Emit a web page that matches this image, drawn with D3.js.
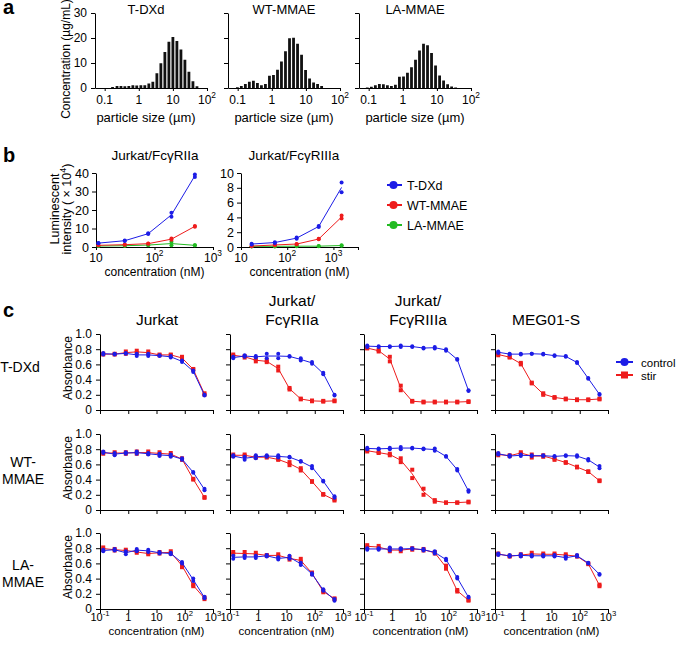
<!DOCTYPE html>
<html><head><meta charset="utf-8">
<script src="https://cdn.jsdelivr.net/npm/d3@7/dist/d3.min.js"></script>
<style>body{margin:0;background:#fff}svg{display:block}</style>
</head><body><svg id="chart" width="676" height="646"></svg>
<script>
// ================= DATA =================
// Panel a: particle size distributions
const aTitles = ["T-DXd", "WT-MMAE", "LA-MMAE"];
const aTicksY = [0, 10, 20, 30];
const aTicksX = [0.1, 1, 10, 100];
const aTickLabelsX = [["0.1"], ["1"], ["10"], ["10", "2"]];
const aSizeTDXd = [0.17,0.23,0.30,0.39,0.51,0.67,0.87,1.15,1.50,1.97,2.58,3.39,4.44,5.82,7.63,10.0,13.1,17.2,22.5,29.5,38.7,50.8];
const aConcTDXd = [0.4,0.8,0.8,0.7,0.8,1.1,1.0,1.1,1.1,1.8,2.5,5.9,9.9,14.4,18.5,20.4,18.8,15.4,11.3,6.5,2.7,0.7];
const aSizeWT = [0.098,0.128,0.168,0.220,0.289,0.379,0.497,0.651,0.854,1.12,1.47,1.92,2.52,3.31,4.34,5.69,7.46,9.78,12.8,16.8,22.0,28.9];
const aConcWT = [0.3,0.8,1.6,2.5,2.9,2.0,1.1,1.6,4.9,5.2,7.3,10.6,14.7,19.9,20.1,17.7,13.3,7.2,3.8,2.2,1.6,0.8];
const aSizeLA = [0.091,0.120,0.157,0.206,0.270,0.354,0.464,0.608,0.797,1.05,1.37,1.80,2.36,3.09,4.05,5.31,6.96,9.13,12.0,15.7,20.6,27.0,35.4];
const aConcLA = [0.2,0.5,1.1,1.6,1.5,1.1,0.8,1.3,4.5,4.6,6.1,8.3,11.3,15.0,17.7,17.1,14.0,9.0,5.0,3.0,1.5,0.6,0.2];

// Panel b: luminescence (x 10^4), two replicates per point
const bDrugs = ["T-DXd", "WT-MMAE", "LA-MMAE"];
const bTitles = ["Jurkat/FcγRIIa", "Jurkat/FcγRIIIa"];
const bConcIIa = [11, 31, 78, 195, 490];
const bIIaTDXd = [[2.2,2.0],[3.5,3.3],[7.4,7.0],[18.5,16.3],[39.2,37.8]];
const bIIaWT   = [[0.9,0.9],[1.3,1.2],[1.9,1.7],[4.6,3.9],[11.3,11.0]];
const bIIaLA   = [[0.5,0.5],[0.7,0.7],[1.1,1.0],[2.8,0.9],[0.9,0.9]];
const bConcIIIa = [17, 54, 160, 480, 1500];
const bIIIaTDXd = [[0.45,0.35],[0.65,0.55],[1.3,1.1],[2.85,2.7],[8.7,7.4]];
const bIIIaWT   = [[0.15,0.1],[0.3,0.25],[0.42,0.38],[1.1,1.05],[4.25,3.85]];
const bIIIaLA   = [[0.1,0.08],[0.1,0.08],[0.12,0.1],[0.12,0.1],[0.22,0.18]];
const bTicksYIIa = [0, 10, 20, 30, 40];
const bTicksYIIIa = [0, 2, 4, 6, 8, 10];

// Panel c: absorbance, two replicates per point; columns: Jurkat, FcγRIIa, FcγRIIIa, MEG01-S
const cColTitles = [["Jurkat"], ["Jurkat/", "FcγRIIa"], ["Jurkat/", "FcγRIIIa"], ["MEG01-S"]];
const cRowLabels = [["T-DXd"], ["WT-", "MMAE"], ["LA-", "MMAE"]];
const cSeries = ["control", "stir"];
const cConc = [0.13, 0.33, 0.82, 2.0, 5.1, 12.8, 32, 80, 200, 500];
const cTicksX = [0.1, 1, 10, 100, 1000];
const cTickLabelsX = [["10", "-1"], ["1"], ["10"], ["10", "2"], ["10", "3"]];
const cTicksY = [0, 0.2, 0.4, 0.6, 0.8, 1.0];
const cCtrlTDXd = [
  [[0.75,0.73],[0.74,0.73],[0.75,0.74],[0.74,0.71],[0.74,0.71],[0.72,0.71],[0.71,0.69],[0.65,0.63],[0.52,0.50],[0.20,0.19]],
  [[0.70,0.68],[0.72,0.70],[0.71,0.69],[0.74,0.68],[0.74,0.68],[0.71,0.70],[0.68,0.65],[0.63,0.61],[0.49,0.47],[0.20,0.19]],
  [[0.85,0.83],[0.84,0.83],[0.84,0.83],[0.85,0.83],[0.84,0.83],[0.82,0.81],[0.83,0.81],[0.80,0.78],[0.67,0.66],[0.26,0.25]],
  [[0.77,0.75],[0.74,0.73],[0.74,0.73],[0.74,0.74],[0.74,0.73],[0.72,0.71],[0.71,0.70],[0.63,0.62],[0.42,0.41],[0.21,0.20]]];
const cStirTDXd = [
  [[0.74,0.73],[0.74,0.73],[0.77,0.74],[0.78,0.75],[0.77,0.74],[0.73,0.72],[0.73,0.72],[0.70,0.67],[0.54,0.53],[0.22,0.20]],
  [[0.73,0.71],[0.71,0.69],[0.67,0.64],[0.65,0.63],[0.57,0.52],[0.29,0.27],[0.15,0.14],[0.125,0.115],[0.12,0.11],[0.125,0.115]],
  [[0.82,0.81],[0.79,0.77],[0.70,0.64],[0.32,0.26],[0.12,0.11],[0.11,0.10],[0.11,0.10],[0.11,0.10],[0.11,0.10],[0.115,0.105]],
  [[0.74,0.72],[0.70,0.69],[0.62,0.60],[0.36,0.35],[0.22,0.20],[0.17,0.16],[0.15,0.14],[0.14,0.13],[0.14,0.13],[0.15,0.14]]];
const cCtrlWT = [
  [[0.77,0.75],[0.75,0.72],[0.76,0.74],[0.77,0.74],[0.75,0.73],[0.74,0.71],[0.73,0.70],[0.68,0.66],[0.50,0.49],[0.28,0.26]],
  [[0.72,0.70],[0.70,0.66],[0.72,0.68],[0.72,0.70],[0.72,0.69],[0.70,0.69],[0.645,0.635],[0.58,0.55],[0.385,0.375],[0.18,0.16]],
  [[0.82,0.80],[0.81,0.80],[0.82,0.80],[0.83,0.80],[0.82,0.81],[0.81,0.80],[0.81,0.78],[0.71,0.70],[0.54,0.52],[0.26,0.24]],
  [[0.75,0.73],[0.72,0.70],[0.73,0.71],[0.72,0.71],[0.72,0.71],[0.71,0.70],[0.72,0.71],[0.72,0.70],[0.67,0.65],[0.58,0.55]]];
const cStirWT = [
  [[0.76,0.74],[0.76,0.74],[0.76,0.74],[0.77,0.74],[0.77,0.74],[0.76,0.73],[0.75,0.72],[0.68,0.66],[0.41,0.40],[0.17,0.16]],
  [[0.73,0.71],[0.73,0.71],[0.70,0.69],[0.70,0.69],[0.67,0.66],[0.63,0.59],[0.55,0.52],[0.38,0.37],[0.21,0.20],[0.14,0.125]],
  [[0.79,0.77],[0.76,0.75],[0.74,0.72],[0.68,0.63],[0.53,0.42],[0.28,0.20],[0.13,0.11],[0.10,0.095],[0.10,0.095],[0.11,0.10]],
  [[0.74,0.72],[0.72,0.71],[0.76,0.74],[0.73,0.69],[0.72,0.70],[0.68,0.66],[0.63,0.62],[0.57,0.56],[0.51,0.50],[0.39,0.38]]];
const cCtrlLA = [
  [[0.78,0.76],[0.79,0.77],[0.76,0.72],[0.79,0.76],[0.78,0.75],[0.75,0.73],[0.74,0.72],[0.62,0.60],[0.40,0.37],[0.16,0.14]],
  [[0.70,0.66],[0.70,0.67],[0.70,0.67],[0.71,0.69],[0.68,0.65],[0.70,0.66],[0.61,0.58],[0.47,0.45],[0.26,0.24],[0.13,0.11]],
  [[0.80,0.78],[0.80,0.78],[0.81,0.77],[0.80,0.78],[0.80,0.79],[0.79,0.77],[0.76,0.73],[0.66,0.64],[0.42,0.40],[0.16,0.15]],
  [[0.73,0.71],[0.71,0.69],[0.72,0.69],[0.71,0.69],[0.71,0.69],[0.71,0.69],[0.69,0.66],[0.71,0.69],[0.61,0.60],[0.46,0.45]]];
const cStirLA = [
  [[0.81,0.78],[0.79,0.77],[0.78,0.76],[0.76,0.74],[0.74,0.72],[0.75,0.73],[0.76,0.73],[0.59,0.55],[0.32,0.30],[0.15,0.13]],
  [[0.75,0.72],[0.75,0.71],[0.74,0.71],[0.71,0.70],[0.72,0.69],[0.68,0.65],[0.66,0.62],[0.48,0.46],[0.24,0.22],[0.14,0.13]],
  [[0.84,0.81],[0.83,0.80],[0.79,0.76],[0.79,0.76],[0.80,0.78],[0.79,0.77],[0.75,0.73],[0.57,0.53],[0.25,0.23],[0.12,0.11]],
  [[0.73,0.72],[0.70,0.69],[0.72,0.70],[0.74,0.71],[0.73,0.71],[0.73,0.71],[0.72,0.70],[0.70,0.69],[0.60,0.59],[0.32,0.30]]];

// ================= DRAWING =================
const FONT = "'Liberation Sans', Arial, Helvetica, sans-serif";
const BLUE = "#1c1ce6", RED = "#ee1c1c", GREEN = "#22bb22";
const svg = d3.select("#chart").attr("font-family", FONT);

function styleAxis(g, fs) {
  g.attr("font-family", null).attr("font-size", fs);
  g.selectAll("path,line").attr("stroke", "#000").attr("stroke-width", 1);
  g.selectAll("text").attr("fill", "#000");
}
function supLabel(parent, x, y, parts, fs, anchor) {
  const t = parent.append("text").attr("x", x).attr("y", y)
    .attr("text-anchor", anchor || "middle").attr("font-size", fs).attr("fill", "#000");
  t.append("tspan").text(parts[0]);
  if (parts[1]) t.append("tspan").attr("dy", -fs * 0.42).attr("font-size", fs * 0.7).text(parts[1]);
  return t;
}
function multiLine(parent, x, y, lines, fs, lh, anchor) {
  lines.forEach((l, i) => parent.append("text").attr("x", x).attr("y", y + i * lh)
    .attr("text-anchor", anchor || "middle").attr("font-size", fs).text(l));
}
function panelLetter(t, x, y) {
  svg.append("text").attr("x", x).attr("y", y).attr("font-size", 20)
    .attr("font-weight", "bold").text(t);
}

// ---------- Panel a ----------
panelLetter("a", 3, 14);
const aLeft = [95, 228, 359], aW = 112, aTop = 13, aBot = 88;
const aTitleX = [146, 284, 415];
const aData = [[aSizeTDXd, aConcTDXd], [aSizeWT, aConcWT], [aSizeLA, aConcLA]];
aData.forEach(([sizes, vals], i) => {
  const x = d3.scaleLog().domain([0.052, 100]).range([aLeft[i], aLeft[i] + aW]);
  const y = d3.scaleLinear().domain([0, 30]).range([aBot, aTop]);
  const g = svg.append("g");
  g.selectAll("rect").data(sizes).join("rect")
    .attr("x", d => x(d) - 1.4).attr("width", 2.8)
    .attr("y", (d, j) => y(vals[j])).attr("height", (d, j) => y(0) - y(vals[j]))
    .attr("fill", "#111");
  const gy = svg.append("g").attr("transform", `translate(${aLeft[i]},0)`)
    .call(d3.axisLeft(y).tickValues(aTicksY).tickSize(4).tickSizeOuter(0)
      .tickPadding(4).tickFormat(i === 0 ? d3.format("d") : ""));
  styleAxis(gy, 12);
  const gx = svg.append("g").attr("transform", `translate(0,${aBot})`)
    .call(d3.axisBottom(x).tickValues(aTicksX).tickSize(3).tickSizeOuter(0).tickFormat(""));
  styleAxis(gx, 12);
  aTicksX.forEach((v, k) => supLabel(svg, x(v), 103.5, aTickLabelsX[k], 12));
  svg.append("text").attr("x", aTitleX[i]).attr("y", 14).attr("text-anchor", "middle")
    .attr("font-size", 13).text(aTitles[i]);
  svg.append("text").attr("x", aTitleX[i]).attr("y", 122).attr("text-anchor", "middle")
    .attr("font-size", 13).text("particle size (µm)");
});
svg.append("text").attr("transform", "translate(70,59) rotate(-90)")
  .attr("text-anchor", "middle").attr("font-size", 12).text("Concentration (µg/mL)");

// ---------- Panel b ----------
panelLetter("b", 3, 162);
const bPanels = [
  { left: 96, right: 213, dom: [10, 1000], ymax: 40, yt: bTicksYIIa, conc: bConcIIa,
    series: [bIIaTDXd, bIIaWT, bIIaLA], tx: 155, xt: [10, 100, 1000] },
  { left: 241, right: 358, dom: [10, 3400], ymax: 10, yt: bTicksYIIIa, conc: bConcIIIa,
    series: [bIIIaTDXd, bIIIaWT, bIIIaLA], tx: 294, xt: [10, 100, 1000] }];
const bTickLab = { 10: ["10"], 100: ["10", "2"], 1000: ["10", "3"] };
const bColors = [BLUE, RED, GREEN];
const bTop = 173, bBot = 247;
bPanels.forEach((p, i) => {
  const x = d3.scaleLog().domain(p.dom).range([p.left, p.right]);
  const y = d3.scaleLinear().domain([0, p.ymax]).range([bBot, bTop]);
  const gy = svg.append("g").attr("transform", `translate(${p.left},0)`)
    .call(d3.axisLeft(y).tickValues(p.yt).tickSize(4).tickSizeOuter(0).tickPadding(3).tickFormat(d3.format("d")));
  styleAxis(gy, 12.5);
  const gx = svg.append("g").attr("transform", `translate(0,${bBot})`)
    .call(d3.axisBottom(x).tickValues(p.xt.concat([p.dom[1]])).tickSize(3).tickSizeOuter(0).tickFormat(""));
  styleAxis(gx, 12);
  p.xt.forEach(v => supLabel(svg, x(v), 261.5, bTickLab[v], 12));
  svg.append("text").attr("x", p.tx).attr("y", 160).attr("text-anchor", "middle")
    .attr("font-size", 13.5).text(bTitles[i]);
  svg.append("text").attr("x", (p.left + p.right) / 2).attr("y", 276).attr("text-anchor", "middle")
    .attr("font-size", 12).text("concentration (nM)");
  [2, 1, 0].forEach(s => {
    const data = p.series[s];
    const line = d3.line().x((d, j) => x(p.conc[j])).y(d => y(d3.mean(d)));
    svg.append("path").datum(data).attr("d", line).attr("fill", "none")
      .attr("stroke", bColors[s]).attr("stroke-width", 1);
    const pts = [];
    data.forEach((d, j) => d.forEach(v => pts.push([p.conc[j], v])));
    svg.append("g").selectAll("circle").data(pts).join("circle")
      .attr("cx", d => x(d[0])).attr("cy", d => y(d[1])).attr("r", 2)
      .attr("fill", bColors[s]);
  });
});
const bYL = svg.append("g").attr("transform", "translate(0,209)");
bYL.append("text").attr("transform", "translate(59,0) rotate(-90)").attr("text-anchor", "middle")
  .attr("font-size", 12.5).text("Luminescent");
const bYL2 = bYL.append("text").attr("transform", "translate(71,0) rotate(-90)").attr("text-anchor", "middle")
  .attr("font-size", 12.5);
bYL2.append("tspan").text("intensity ( × 10");
bYL2.append("tspan").attr("dy", -5).attr("font-size", 9).text("4");
bYL2.append("tspan").attr("dy", 5).text(")");
bDrugs.forEach((name, s) => {
  const ly = 185 + s * 20;
  svg.append("line").attr("x1", 387).attr("x2", 402).attr("y1", ly).attr("y2", ly)
    .attr("stroke", bColors[s]).attr("stroke-width", 2);
  svg.append("circle").attr("cx", 393.5).attr("cy", ly).attr("r", 4).attr("fill", bColors[s]);
  svg.append("text").attr("x", 407).attr("y", ly + 4.5).attr("font-size", 12.5).text(name);
});

// ---------- Panel c ----------
panelLetter("c", 3, 317);
const cLeft = [100, 230, 364, 495], cW = 113, cY0 = [410, 510, 609], cH = 76;
const cTitleX = [157, 292, 418, 546];
const cCtrl = [cCtrlTDXd, cCtrlWT, cCtrlLA];
const cStir = [cStirTDXd, cStirWT, cStirLA];
const cRowLabelX = [20, 23, 23];
const cRowLabelY = [372, 467, 570];
cColTitles.forEach((lines, c) => {
  if (lines.length === 1) multiLine(svg, cTitleX[c], 325, lines, 15.5, 18);
  else multiLine(svg, cTitleX[c], 306, lines, 15.5, 18.5);
});
cRowLabels.forEach((lines, r) => multiLine(svg, cRowLabelX[r], cRowLabelY[r], lines, 14, 16.5));
for (let r = 0; r < 3; r++) {
  for (let c = 0; c < 4; c++) {
    const x = d3.scaleLog().domain([0.1, 1000]).range([cLeft[c], cLeft[c] + cW]);
    const y = d3.scaleLinear().domain([0, 1]).range([cY0[r], cY0[r] - cH]);
    const gy = svg.append("g").attr("transform", `translate(${cLeft[c]},0)`)
      .call(d3.axisLeft(y).tickValues(cTicksY).tickSize(4).tickSizeOuter(0).tickPadding(4)
        .tickFormat(c === 0 ? (d => d === 0 ? "0" : d3.format(".1f")(d)) : ""));
    styleAxis(gy, 12);
    const gx = svg.append("g").attr("transform", `translate(0,${cY0[r]})`)
      .call(d3.axisBottom(x).tickValues(cTicksX).tickSize(4).tickSizeOuter(0).tickFormat(""));
    styleAxis(gx, 12);
    if (r === 2) {
      cTicksX.forEach((v, k) => supLabel(svg, x(v), 621, cTickLabelsX[k], 11));
      svg.append("text").attr("x", cLeft[c] + cW / 2).attr("y", 635).attr("text-anchor", "middle")
        .attr("font-size", 11.5).text("concentration (nM)");
    }
    [[cStir[r][c], RED, "sq"], [cCtrl[r][c], BLUE, "ci"]].forEach(([data, col, shape]) => {
      const line = d3.line().x((d, j) => x(cConc[j])).y(d => y(d3.mean(d)));
      svg.append("path").datum(data).attr("d", line).attr("fill", "none")
        .attr("stroke", col).attr("stroke-width", 1);
      const pts = [];
      data.forEach((d, j) => d.forEach(v => pts.push([cConc[j], v])));
      const g = svg.append("g");
      if (shape === "sq") {
        g.selectAll("rect").data(pts).join("rect")
          .attr("x", d => x(d[0]) - 2).attr("y", d => y(d[1]) - 2)
          .attr("width", 4).attr("height", 4).attr("fill", col);
      } else {
        g.selectAll("circle").data(pts).join("circle")
          .attr("cx", d => x(d[0])).attr("cy", d => y(d[1])).attr("r", 2).attr("fill", col);
      }
    });
  }
  svg.append("text").attr("transform", `translate(72,${cY0[r] - 42}) rotate(-90)`)
    .attr("text-anchor", "middle").attr("font-size", 12).text("Absorbance");
}
[["control", BLUE], ["stir", RED]].forEach(([name, col], s) => {
  const ly = 362 + s * 13;
  svg.append("line").attr("x1", 616).attr("x2", 633).attr("y1", ly).attr("y2", ly)
    .attr("stroke", col).attr("stroke-width", 2);
  if (s === 0) svg.append("circle").attr("cx", 624.5).attr("cy", ly).attr("r", 4).attr("fill", col);
  else svg.append("rect").attr("x", 621).attr("y", ly - 3.5).attr("width", 7).attr("height", 7).attr("fill", col);
  svg.append("text").attr("x", 641).attr("y", ly + 4.5).attr("font-size", 11.5).text(name);
});
</script></body></html>
